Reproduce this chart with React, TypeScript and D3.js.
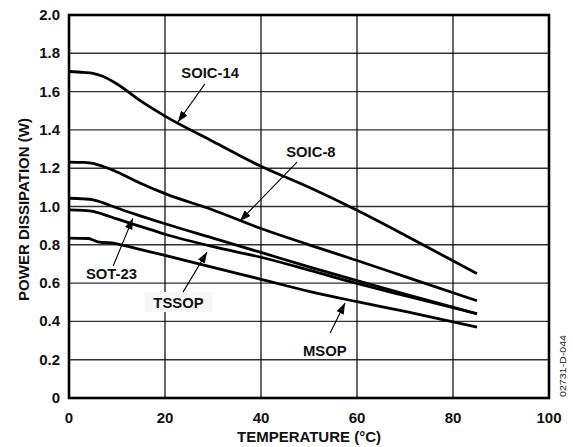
import React from "react";
import * as d3 from "d3";

const W = 573;
const H = 447;

const xTicks = [0, 20, 40, 60, 80, 100];
const yTicks = [0, 0.2, 0.4, 0.6, 0.8, 1.0, 1.2, 1.4, 1.6, 1.8, 2.0];
const yTickLabels = ["0", "0.2", "0.4", "0.6", "0.8", "1.0", "1.2", "1.4", "1.6", "1.8", "2.0"];

const soic14T = [0, 3, 5, 7, 10, 15, 20, 30, 40, 50, 60, 70, 85];
const soic14W = [1.705, 1.70, 1.695, 1.68, 1.64, 1.55, 1.472, 1.34, 1.21, 1.10, 0.98, 0.85, 0.65];

const soic8T = [0, 3, 5, 7, 10, 15, 20, 30, 40, 50, 60, 70, 85];
const soic8W = [1.232, 1.23, 1.225, 1.21, 1.18, 1.12, 1.067, 0.982, 0.885, 0.80, 0.718, 0.634, 0.508];

const sot23T = [0, 3, 5, 7, 10, 15, 20, 30, 40, 50, 60, 70, 85];
const sot23W = [1.043, 1.04, 1.035, 1.02, 0.992, 0.95, 0.91, 0.835, 0.76, 0.685, 0.613, 0.543, 0.44];

const tssopT = [0, 3, 5, 7, 10, 15, 20, 30, 40, 50, 60, 70, 85];
const tssopW = [0.982, 0.98, 0.975, 0.96, 0.935, 0.895, 0.855, 0.79, 0.735, 0.668, 0.598, 0.534, 0.44];

const msopT = [0, 4, 5, 6, 7, 9, 10, 15, 20, 30, 40, 50, 60, 70, 85];
const msopW = [0.835, 0.833, 0.825, 0.815, 0.812, 0.81, 0.805, 0.775, 0.745, 0.682, 0.62, 0.557, 0.503, 0.452, 0.37];

const seriesT = [soic14T, soic8T, sot23T, tssopT, msopT];
const seriesW = [soic14W, soic8W, sot23W, tssopW, msopW];

// annotations: label, text position (T, W), arrow from (T, W) to (T, W)
const annLabels = ["SOIC-14", "SOIC-8", "SOT-23", "TSSOP", "MSOP"];
const annTextT = [29.4, 50.4, 8.85, 22.8, 53.3];
const annTextW = [1.671, 1.258, 0.621, 0.47, 0.219];
const annFromT = [28.3, 47.5, 9.2, 23.75, 54.4];
const annFromW = [1.64, 1.232, 0.689, 0.553, 0.339];
const annToT = [22.7, 35.6, 13.3, 28.75, 57.5];
const annToW = [1.441, 0.924, 0.938, 0.762, 0.496];
const annBox = [false, false, false, true, false];

export default function App() {
  const left = 69, right = 549, top = 15, bottom = 398;
  const x = d3.scaleLinear().domain([0, 100]).range([left, right]);
  const y = d3.scaleLinear().domain([0, 2]).range([bottom, top]);
  const line = d3
    .line<[number, number]>()
    .x((d) => x(d[0]))
    .y((d) => y(d[1]))
    .curve(d3.curveMonotoneX);

  const font = "'Liberation Sans', Arial, Helvetica, sans-serif";

  return (
    <svg
      width={W}
      height={H}
      style={{ position: "absolute", left: 0, top: 0, background: "#fff" }}
      fontFamily={font}
    >
      <defs>
        <marker
          id="ah"
          markerUnits="userSpaceOnUse"
          markerWidth={12}
          markerHeight={8}
          refX={11}
          refY={4}
          orient="auto"
        >
          <path d="M0,0 L11,4 L0,8 Z" fill="#000" />
        </marker>
      </defs>
      <rect x={0} y={0} width={W} height={H} fill="#fff" />

      {/* horizontal grid */}
      {yTicks.slice(1, -1).map((t) => (
        <line key={"h" + t} x1={left} x2={right} y1={y(t)} y2={y(t)} stroke="#333" strokeWidth={1.4} />
      ))}
      {/* vertical grid */}
      {xTicks.slice(1, -1).map((t) => (
        <line key={"v" + t} x1={x(t)} x2={x(t)} y1={top} y2={bottom} stroke="#000" strokeWidth={1.2} />
      ))}

      {/* annotation boxes */}
      {annLabels.map((lab, i) =>
        annBox[i] ? (
          <rect
            key={"b" + i}
            x={x(annTextT[i]) - 34}
            y={y(annTextW[i]) - 16}
            width={68}
            height={20}
            fill="#f7f7f7"
          />
        ) : null
      )}

      {/* curves */}
      {seriesT.map((ts, i) => (
        <path
          key={"s" + i}
          d={line(ts.map((t, j) => [t, seriesW[i][j]] as [number, number])) || ""}
          fill="none"
          stroke="#000"
          strokeWidth={2.8}
        />
      ))}

      {/* border */}
      <rect x={left} y={top} width={right - left} height={bottom - top} fill="none" stroke="#000" strokeWidth={2.6} />

      {/* annotations */}
      {annLabels.map((lab, i) => (
        <g key={"a" + i}>
          <line
            x1={x(annFromT[i])}
            y1={y(annFromW[i])}
            x2={x(annToT[i])}
            y2={y(annToW[i])}
            stroke="#000"
            strokeWidth={1.1}
            markerEnd="url(#ah)"
          />
          <text
            x={x(annTextT[i])}
            y={y(annTextW[i])}
            textAnchor="middle"
            fontSize={14.8}
            fontWeight="bold"
            fill="#111"
          >
            {lab}
          </text>
        </g>
      ))}

      {/* y ticks */}
      {yTicks.map((t, i) => (
        <text
          key={"yt" + t}
          x={left - 9}
          y={y(t) + 5}
          textAnchor="end"
          fontSize={15}
          fontWeight="bold"
          fill="#111"
        >
          {yTickLabels[i]}
        </text>
      ))}
      {/* x ticks */}
      {xTicks.map((t) => (
        <text
          key={"xt" + t}
          x={x(t)}
          y={423}
          textAnchor="middle"
          fontSize={15}
          fontWeight="bold"
          fill="#111"
        >
          {t}
        </text>
      ))}

      {/* axis titles */}
      <text x={(left + right) / 2} y={441.5} textAnchor="middle" fontSize={15} fontWeight="bold" fill="#111">
        TEMPERATURE (°C)
      </text>
      <text
        transform={`translate(29,${(top + bottom) / 2 + 3}) rotate(-90)`}
        textAnchor="middle"
        fontSize={15}
        fontWeight="bold"
        fill="#111"
      >
        POWER DISSIPATION (W)
      </text>

      {/* figure id */}
      <text
        transform={`translate(565.5,366) rotate(-90)`}
        textAnchor="middle"
        fontSize={8.5}
        fill="#222"
        textLength={62}
        lengthAdjust="spacingAndGlyphs"
      >
        02731-D-044
      </text>
    </svg>
  );
}
